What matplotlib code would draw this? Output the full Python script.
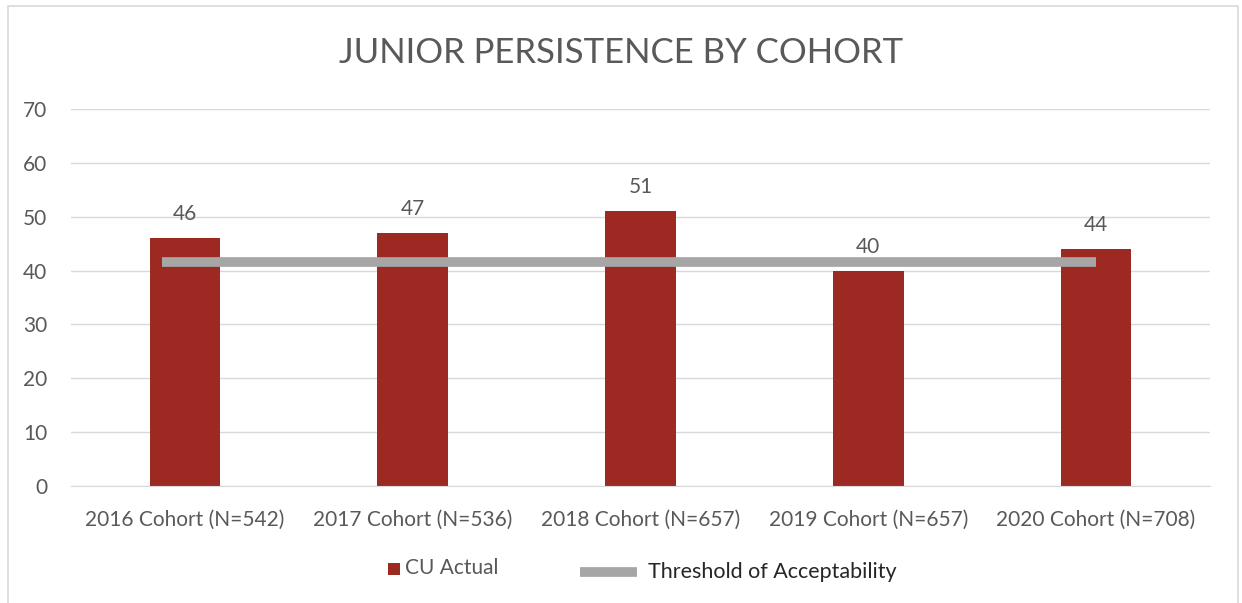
import matplotlib
matplotlib.use("Agg")
import matplotlib.pyplot as plt
from matplotlib.patches import Rectangle
from matplotlib.lines import Line2D
import numpy as np

categories = ["2016 Cohort (N=542)", "2017 Cohort (N=536)", "2018 Cohort (N=657)",
              "2019 Cohort (N=657)", "2020 Cohort (N=708)"]
cu_actual = [46, 47, 51, 40, 44]
threshold = 41.6
yticks = [0, 10, 20, 30, 40, 50, 60, 70]

plt.rcParams['font.family'] = ['Lato', 'DejaVu Sans']

BAR = "#9C2A22"
LINE = "#A6A6A6"
TXT = "#595959"
GRID = "#D9D9D9"

fig = plt.figure(figsize=(12.42, 6.03), dpi=100)
fig.patch.set_facecolor("white")
fig.patches.append(Rectangle((8/1242, -0.01), 1230/1242, 1 - 6/603 + 0.01,
                             transform=fig.transFigure, fill=False,
                             edgecolor=GRID, linewidth=1.2))

ax = fig.add_axes([71/1242, 1 - 486/603, (1210-71)/1242, (486-109)/603])
x = np.arange(len(categories))
ax.bar(x, cu_actual, width=0.31, color=BAR, zorder=2)
ax.hlines(threshold, -0.1, len(categories) - 1, colors=LINE, linewidth=7, zorder=3,
          capstyle="butt")

for xi, v in zip(x, cu_actual):
    ax.annotate(str(v), (xi, v), xytext=(0, 10), textcoords="offset points",
                ha="center", va="bottom", fontsize=15, color=TXT)

ax.set_xlim(-0.5, len(categories) - 0.5)
ax.set_ylim(0, 70)
ax.set_yticks(yticks)
ax.set_xticks(x)
ax.set_xticklabels(categories)
ax.tick_params(axis="both", length=0, labelsize=15, labelcolor=TXT)
ax.tick_params(axis="y", pad=17)
ax.tick_params(axis="x", pad=17)
ax.grid(axis="y", color=GRID, linewidth=1, zorder=0)
for s in ["top", "right", "left"]:
    ax.spines[s].set_visible(False)
ax.spines["bottom"].set_color(GRID)
ax.set_axisbelow(True)

fig.text(0.5, 1 - 53/603, "JUNIOR PERSISTENCE BY COHORT", ha="center", va="center",
         fontsize=25, color=TXT)

# legend
fig.patches.append(Rectangle((388/1242, 1 - 575/603), 12/1242, 12/603,
                             transform=fig.transFigure, facecolor=BAR, edgecolor="none"))
fig.text(405/1242, 1 - 568/603, "CU Actual", ha="left", va="center", fontsize=15, color=TXT)
fig.lines.append(Line2D([580/1242, 637/1242], [1 - 572/603, 1 - 572/603],
                        transform=fig.transFigure, color=LINE, linewidth=7,
                        solid_capstyle="butt"))
fig.text(648/1242, 1 - 572/603, "Threshold of Acceptability", ha="left", va="center",
         fontsize=15.5, color="#262626")

fig.savefig("out.png", dpi=100, facecolor="white")
